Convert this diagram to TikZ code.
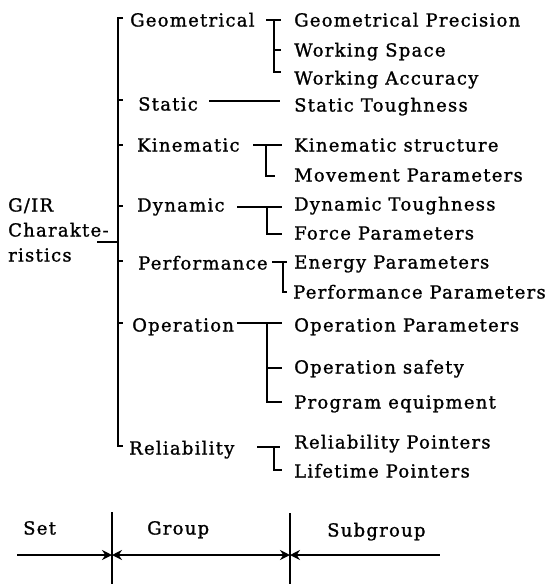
\documentclass[tikz,border=0pt]{standalone}
\usepackage{fontspec}
\usetikzlibrary{arrows.meta}
\newfontfamily\lbfont[LetterSpace=7,FakeBold=1.2]{DejaVu Serif}
\tikzset{
  lbl/.style={anchor=west, inner sep=0pt, text height=13pt, text depth=0pt,
              font={\lbfont\fontsize{18}{22}\selectfont}},
  ln/.style={line width=1.4pt},
  arr/.style={line width=1.4pt, -{Stealth[length=10pt,width=10pt]}},
  arrb/.style={line width=1.4pt, {Stealth[length=10pt,width=10pt]}-{Stealth[length=10pt,width=10pt]}},
  arrl/.style={line width=1.4pt, {Stealth[length=10pt,width=10pt]}-}
}
\begin{document}
\begin{tikzpicture}[x=1pt,y=-1pt]
\useasboundingbox (0,0) rectangle (554,584);
% root
\node[lbl] (r1) at (8,205) {G/IR};
\node[lbl] (r2) at (8,230) {Charakte-};
\node[lbl] (r3) at (8,255) {ristics};
% groups
\node[lbl] (geo) at (130,20) {Geometrical};
\node[lbl] (sta) at (138,104) {Static};
\node[lbl] (kin) at (137,145) {Kinematic};
\node[lbl] (dyn) at (137,205) {Dynamic};
\node[lbl] (per) at (138,263) {Performance};
\node[lbl] (ope) at (132,325) {Operation};
\node[lbl] (rel) at (129,448) {Reliability};
% subgroups
\node[lbl] (g1) at (294,20) {Geometrical Precision};
\node[lbl] (g2) at (294,50) {Working Space};
\node[lbl] (g3) at (294,78) {Working Accuracy};
\node[lbl] (s1) at (294,105) {Static Toughness};
\node[lbl] (k1) at (294,145) {Kinematic structure};
\node[lbl] (k2) at (294,175) {Movement Parameters};
\node[lbl] (d1) at (294,204) {Dynamic Toughness};
\node[lbl] (d2) at (294,233) {Force Parameters};
\node[lbl] (p1) at (294,262) {Energy Parameters};
\node[lbl] (p2) at (293,292) {Performance Parameters};
\node[lbl] (o1) at (294,325) {Operation Parameters};
\node[lbl] (o2) at (294,367) {Operation safety};
\node[lbl] (o3) at (294,402) {Program equipment};
\node[lbl] (l1) at (294,442) {Reliability Pointers};
\node[lbl] (l2) at (294,471) {Lifetime Pointers};
% root connector and main bracket
\coordinate (rc) at (97,242);
\coordinate (mt) at (118,18);
\coordinate (mb) at (118,446);
\draw[ln] (rc) -- (rc -| mt);
\draw[ln] (123,18) -- (mt) -- (mb) -- (123,446);
\foreach \yy in {100,145,206,261,323} \draw[ln] (118,\yy) -- (123,\yy);
% Geometrical
\draw[ln] (266,20) -- (281,20);
\draw[ln] (274,20) -- (274,72) -- (281,72);
\draw[ln] (274,50) -- (281,50);
% Static
\draw[ln] (209,101) -- (280,101);
% Kinematic
\draw[ln] (253,145) -- (282,145);
\draw[ln] (266,145) -- (266,176) -- (275,176);
% Dynamic
\draw[ln] (237,207) -- (282,207);
\draw[ln] (267,207) -- (267,234) -- (282,234);
% Performance
\draw[ln] (272,262) -- (287,262);
\draw[ln] (283,262) -- (283,292) -- (287,292);
% Operation
\draw[ln] (237,323) -- (282,323);
\draw[ln] (267,323) -- (267,402) -- (282,402);
\draw[ln] (267,368) -- (282,368);
% Reliability
\draw[ln] (257,447) -- (280,447);
\draw[ln] (274,447) -- (274,470) -- (282,470);
% legend
\node[lbl] (set) at (23,528) {Set};
\node[lbl] (grp) at (147,528) {Group};
\node[lbl] (sub) at (327,530) {Subgroup};
\coordinate (v1t) at (112,512);
\coordinate (v1b) at (112,584);
\coordinate (v2t) at (290,513);
\coordinate (v2b) at (290,584);
\coordinate (hl) at (17,555);
\coordinate (h1) at (112,555);
\coordinate (h2) at (290,555);
\coordinate (hr) at (440,555);
\draw[ln] (v1t) -- (v1b);
\draw[ln] (v2t) -- (v2b);
\draw[arr] (hl) -- (h1);
\draw[arrb] (h1) -- (h2);
\draw[arrl] (h2) -- (hr);
\end{tikzpicture}
\end{document}
